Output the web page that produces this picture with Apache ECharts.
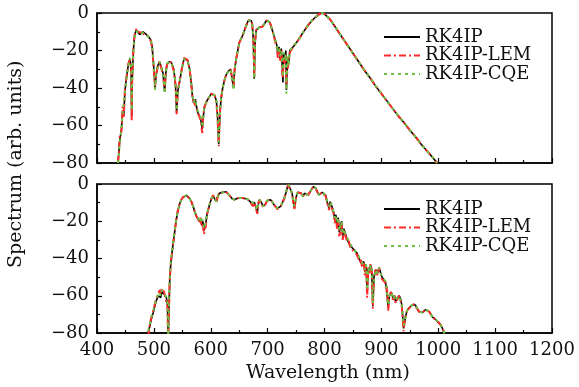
<!DOCTYPE html>
<html><head><meta charset="utf-8">
<script src="https://cdn.jsdelivr.net/npm/echarts@6/dist/echarts.min.js"></script>
<style>html,body{margin:0;padding:0;background:#fff}#c{width:579px;height:387px}</style>
</head><body><div id="c"></div>
<script>
// ---- Data ----
const seriesNames = ['RK4IP', 'RK4IP-LEM', 'RK4IP-CQE'];
const xTicks = [400, 500, 600, 700, 800, 900, 1000, 1100, 1200];
const yTicks = [0, -20, -40, -60, -80];

// Top panel
const topWl = [437,440,443,445,447,449,452,455,458,460,
461,462,464,466,469,472,475,478,481,484,
487,490,494,497,500,502,504,507,510,513,
516,519,521,523,527,531,535,538,540,542,
545,549,553,556,559,563,566,568,570,573,
575,577,579,582,585,587,589,593,597,601,
604,607,610,612,614,616,618,621,624,627,
631,635,638,640,642,645,650,656,662,666,
668,671,673,675,676.5,678,680,683,686,690,
694,698,701,704,707,710,713,716,718,720,
722,724,726,727,728,730,732,733,735,737,
739,742,745,750,755,762,770,778,785,790,
795,800,805,810,820,830,840,850,860,870,
880,890,900,910,920,930,940,950,960,970,
980,990,998];
const topRK4IP = [-80,-68,-62,-52,-55,-42,-34,-28,-24,-30,
-55,-35,-20,-12,-9,-10,-11.5,-10.5,-10,-11,
-11.5,-12.5,-14,-18,-30,-40,-33,-28,-26,-27,
-32,-42,-32,-27.5,-26,-26.5,-30,-38,-53,-42,
-37,-30,-24.5,-23.5,-25,-30,-38,-45,-48,-46,
-50,-53,-52,-56,-62,-55,-50,-47,-45,-43,
-42.5,-44,-47,-55,-70,-55,-46,-40,-36,-33,
-31,-30,-31,-40,-30,-24,-16,-12,-7,-4,
-3,-4,-6,-15,-35,-15,-9,-8,-7.5,-7.5,
-6,-4,-3.5,-5,-8,-11,-14,-17,-22,-18,
-24,-19,-30,-37,-22,-25,-20,-41,-24,-27,
-20,-21,-18,-16,-14,-10.5,-7,-4,-2,-0.8,
0,-0.5,-2,-3.5,-8,-12.5,-17,-21.5,-26,-30.5,
-34.5,-39,-43,-47,-51,-55,-58.5,-62.5,-66,-70,
-73.5,-77,-80];
const topLEM = [-80,-66,-63,-50,-56,-41,-34,-27,-25,-31,
-58,-34,-19,-12,-8.5,-10,-11,-10.5,-10,-11.5,
-11.5,-12.5,-14.5,-18,-31,-39,-33,-28,-26,-27,
-33,-41,-31,-27.5,-26,-26.5,-31,-38,-54,-41,
-37,-30,-24,-23.5,-25,-30,-39,-45,-47,-46,
-51,-53,-52,-57,-64,-54,-50,-47,-45,-43,
-42.5,-44,-48,-56,-71,-54,-46,-40,-36,-33,
-31,-30,-31,-39,-30,-24,-16,-12,-7,-4,
-3,-4,-6,-16,-34,-15,-9,-8,-7.5,-7.5,
-6,-4,-3.5,-5,-8,-11,-15,-18,-24,-19,
-26,-20,-33,-35,-24,-27,-22,-38,-30,-26,
-21,-21,-18,-16,-14,-10.5,-7,-4,-2,-0.8,
0,-0.5,-2,-3.5,-8,-12.5,-17,-21.5,-26,-30.5,
-34.5,-39,-43,-47,-51,-55,-58.5,-62.5,-66,-70,
-73.5,-77,-80];
const topCQE = [-80,-70,-61,-53,-54,-43,-35,-28,-24,-29,
-52,-36,-21,-13,-9.5,-10.5,-11.5,-10.5,-10.5,-11,
-11.5,-12.5,-14,-17,-29,-41,-33,-28,-26,-27,
-32,-43,-32,-27,-26,-26.5,-30,-37,-52,-42,
-37,-30,-24.5,-23.5,-25,-30,-38,-44,-48,-46,
-50,-52,-52,-55,-61,-55,-50,-47,-45,-43,
-42.5,-44,-47,-54,-69,-55,-46,-40,-36,-33,
-31,-30,-31,-41,-30,-24,-16,-12,-7,-4,
-3,-4,-6,-14,-35,-15,-9,-8,-7.5,-7.5,
-6,-4,-3.5,-5,-8,-11,-14,-17,-21,-18,
-23,-20,-28,-34,-21,-24,-22,-43,-23,-28,
-20,-21,-18,-16,-14,-10.5,-7,-4,-2,-0.8,
0,-0.5,-2,-3.5,-8,-12.5,-17,-21.5,-26,-30.5,
-34.5,-39,-43,-47,-51,-55,-58.5,-62.5,-66,-70,
-73.5,-77,-80];

// Bottom panel
const botWl = [490,493,496,499,502,505,508,510,512,514,
516,518,520,522,524,525,526,528,530,533,
536,539,542,545,548,551,554,557,560,563,
566,569,572,575,578,580,582,584,586,588,
589,591,593,595,598,601,604,607,610,612,
615,618,621,624,627,630,634,638,642,646,
650,655,660,665,668,671,674,677,680,682,
684,686,688,690,692,694,696,699,702,705,
708,711,714,717,720,723,726,729,732,735,
737,739,741,743,745,747,749,751,753,756,
759,762,765,768,771,774,777,780,782,784,
787,790,793,796,799,802,805,808,810,813,
816,818,820,822,824,826,828,830,832,834,
837,840,842,845,848,851,854,857,860,862,
864,866,869,871,873,875,877,879,881,883,
885,887,890,893,896,898,901,904,907,909,
910,912,914,917,919,921,923,925,928,931,
933.5,936,939,942,945,948,951,954,957,960,
963,966,969,972,975,978,981,984,987,990,
993,996,999,1002,1005,1008,1012];
const botRK4IP = [-80,-76,-72,-69,-65,-62,-60,-59,-61,-58,
-57.5,-59,-60,-61,-65,-85,-85,-50,-42,-34,
-27,-20,-14.5,-11,-8.5,-7.2,-6.5,-6.1,-6.5,-7.8,
-9.5,-12,-15,-17.5,-18,-20,-18.5,-22,-20,-25,
-26,-22,-17,-14.5,-11,-8,-6.5,-7.5,-9.5,-7,
-5,-4,-4.5,-3.8,-4.2,-5,-6.5,-8,-8.4,-7.8,
-7.5,-7.5,-7.8,-8.2,-8.5,-10,-11,-10,-13,-15,
-10,-8.5,-8,-10.5,-12,-13,-11,-9,-8.5,-8.4,
-9.5,-11,-12,-13,-12.5,-12,-11,-8,-5,-1.5,
-0.4,-2,-3,-5,-9,-13,-9,-6,-4.5,-4,
-5,-6.5,-5,-5.8,-6,-5,-3,-1.5,-1.3,-2,
-4,-5.8,-5.5,-4.5,-4,-6,-10,-13,-9.5,-12,
-15,-19,-16.5,-22,-18,-26,-25.5,-20,-28,-24,
-27,-30,-29,-33,-33.5,-35,-36,-37,-38,-41,
-40,-43,-41.6,-47,-43,-58.6,-45,-47,-43.4,-46,
-65.8,-50,-46,-48,-45,-47,-50,-51,-52.4,-56,
-55,-66.7,-60,-58,-59.5,-62,-60,-63,-62,-60,
-61.3,-65,-77.5,-72,-68,-66.7,-66,-65,-64.5,-65,
-67,-68.5,-69.4,-69,-68,-67.5,-67.6,-68.5,-70,-71.5,
-72.5,-73,-74,-74.8,-76,-78,-81];
const botLEM = [-82,-75,-71,-68,-64,-61,-59,-57,-59,-56,
-56.5,-58,-61,-60,-66,-85,-85,-51,-42,-34,
-27,-20,-14.5,-11,-8.5,-7.2,-6.5,-6.1,-6.5,-7.8,
-9.5,-12,-15,-17.5,-19,-21,-18,-23,-21,-27,
-28,-23,-17,-14.5,-11,-8,-6,-7.5,-10,-7,
-5,-4,-4.5,-3.8,-4.2,-5,-6.5,-8,-8.4,-7.8,
-7.5,-7.5,-7.8,-8.2,-8.5,-10.5,-12,-10,-14,-16,
-10,-8.5,-8,-11,-12.5,-13.5,-11,-9,-8.5,-8.4,
-9.5,-11,-12,-13.5,-13,-12,-11,-8,-5,-1.5,
-0.4,-2.5,-3,-5,-10,-14,-9,-6,-4.5,-4,
-5,-7,-5,-6,-6,-5,-3,-1.5,-1.3,-2,
-4,-6,-5.5,-4.5,-4,-6.5,-10.5,-14,-10,-13,
-16,-21,-17,-24,-19,-28,-26,-21,-30,-25,
-28,-31,-29,-34,-34,-36,-36,-38,-38,-42,
-40,-45,-42,-49,-43,-61,-45,-48,-43,-47,
-67,-50,-46,-49,-45,-47,-51,-51,-53,-58,
-55,-68,-60,-58,-60,-63,-60,-64,-62,-60,
-62,-66,-79,-72,-68,-67,-66,-65,-64.5,-65,
-67,-68.5,-69.4,-69,-68,-67.5,-67.6,-68.5,-70,-71.5,
-72.5,-73,-74,-74.8,-76,-78,-81];
const botCQE = [-79,-75,-71,-68,-64,-61,-60,-58,-60,-57,
-57,-58.5,-59.5,-61,-64,-85,-85,-49,-41,-33,
-26,-19.5,-14.5,-11,-8.5,-7.2,-6.5,-6.1,-6.5,-7.8,
-9.5,-12,-15,-17,-18,-19.5,-18,-21,-19,-24,
-25,-21,-17,-14,-11,-8,-6.5,-7.5,-9.5,-7,
-5,-4,-4.5,-3.8,-4.2,-5,-6.5,-8,-8.4,-7.8,
-7.5,-7.5,-7.8,-8.2,-8.5,-10,-11,-10,-12.5,-14,
-10,-8.5,-8,-10,-12,-13,-11,-9,-8.5,-8.4,
-9.5,-11,-12,-13,-12.5,-12,-11,-8,-5,-1.5,
-0.4,-2,-3,-5,-9,-12,-9,-6,-4.5,-4,
-5,-6.5,-5,-5.8,-6,-5,-3,-1.5,-1.3,-2,
-4,-5.8,-5.5,-4.5,-4,-6,-9.5,-12,-9.5,-12,
-15,-18,-16.5,-21,-18,-25,-25.5,-20,-27,-24,
-27,-29,-29,-32,-33.5,-35,-36,-37,-38,-40,
-40,-42,-41.6,-46,-43,-57,-45,-47,-43.4,-46,
-64,-50,-46,-48,-45,-47,-50,-51,-52,-55,
-55,-65,-60,-58,-59.5,-62,-60,-62,-62,-60,
-61,-65,-76,-72,-68,-66.7,-66,-65,-64.5,-65,
-67,-68.5,-69.4,-69,-68,-67.5,-67.6,-68.5,-70,-71.5,
-72.5,-73,-74,-74.8,-76,-78,-81];

// ---- Build ----
const FONT = 'DejaVu Serif';
const colors = ['#000000', '#ff2a2a', '#6cbf43'];
const lineTypes = ['solid', [7, 3, 2, 3], [3, 4]];
const widths = [1.6, 2, 2];
const pairs = (xs, ys) => xs.map((x, i) => [x, ys[i]]);
const panels = [
  [topRK4IP, topLEM, topCQE].map(v => pairs(topWl, v)),
  [botRK4IP, botLEM, botCQE].map(v => pairs(botWl, v))
];
const fmtY = v => (v < 0 ? '\u2212' + (-v) : String(v));

function xAxis(gi, showLabel) {
  return {
    type: 'value', gridIndex: gi, min: xTicks[0], max: xTicks[xTicks.length - 1], interval: 100,
    axisLine: { onZero: false, lineStyle: { color: '#000', width: 1.5 } },
    axisTick: { inside: true, length: 5, lineStyle: { color: '#000', width: 1.2 } },
    minorTick: { show: true, splitNumber: 2, length: 3, lineStyle: { color: '#000', width: 1.2 } },
    splitLine: { show: false },
    axisLabel: { show: showLabel, margin: 8, color: '#111', fontFamily: FONT, fontSize: 18, formatter: v => String(v) }
  };
}
function yAxis(gi) {
  return {
    type: 'value', gridIndex: gi, min: yTicks[yTicks.length - 1], max: yTicks[0], interval: 20,
    axisLine: { onZero: false, lineStyle: { color: '#000', width: 1.5 } },
    axisTick: { inside: true, length: 5, lineStyle: { color: '#000', width: 1.2 } },
    minorTick: { show: true, splitNumber: 2, length: 3, lineStyle: { color: '#000', width: 1.2 } },
    splitLine: { show: false },
    axisLabel: { margin: 8, color: '#111', fontFamily: FONT, fontSize: 18, formatter: fmtY }
  };
}

const series = [];
panels.forEach((p, gi) => {
  p.forEach((d, si) => {
    series.push({
      name: seriesNames[si], type: 'line', xAxisIndex: gi, yAxisIndex: gi,
      data: d, symbol: 'none', clip: true, animation: false,
      lineStyle: { color: colors[si], width: widths[si], type: lineTypes[si] },
      itemStyle: { color: colors[si] }, z: 2 + si
    });
  });
});

function legend(top) {
  return {
    data: seriesNames, orient: 'vertical', left: 378, top: top,
    itemWidth: 36, itemHeight: 12, itemGap: 0.5,
    itemStyle: { opacity: 0 },
    textStyle: { fontFamily: FONT, fontSize: 18, color: '#111', lineHeight: 17, padding: [0, 0, 0, 0] },
    selectedMode: false
  };
}

const chart = echarts.init(document.getElementById('c'), null, { renderer: 'canvas' });
chart.setOption({
  animation: false,
  backgroundColor: '#fff',
  grid: [
    { left: 97, right: 27, top: 13, height: 150, show: true, borderColor: '#000', borderWidth: 1.5, backgroundColor: 'transparent' },
    { left: 97, right: 27, top: 184, height: 149, show: true, borderColor: '#000', borderWidth: 1.5, backgroundColor: 'transparent' }
  ],
  xAxis: [xAxis(0, false), xAxis(1, true)],
  yAxis: [yAxis(0), yAxis(1)],
  legend: [legend(23), legend(195)],
  series: series,
  graphic: [
    { type: 'text', left: 246, top: 364, style: { text: 'Wavelength (nm)', font: '19px "DejaVu Serif"', fill: '#111' } },
    { type: 'text', x: 7, y: 268, rotation: Math.PI / 2, style: { text: 'Spectrum (arb. units)', font: '19px "DejaVu Serif"', fill: '#111', textAlign: 'left', textVerticalAlign: 'top' } }
  ]
});
</script>
</body></html>
